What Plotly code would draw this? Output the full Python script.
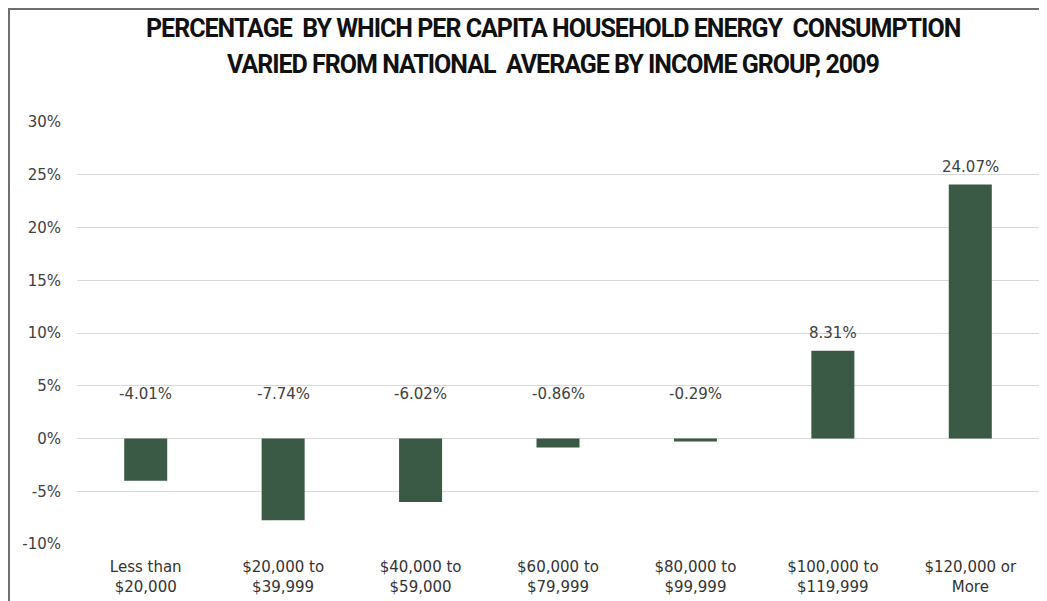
import plotly.graph_objects as go

categories = ["Less than<br>$20,000", "$20,000 to<br>$39,999", "$40,000 to<br>$59,000",
              "$60,000 to<br>$79,999", "$80,000 to<br>$99,999", "$100,000 to<br>$119,999",
              "$120,000 or<br>More"]
values = [-4.01, -7.74, -6.02, -0.86, -0.29, 8.31, 24.07]
tick_vals = [-10, -5, 0, 5, 10, 15, 20, 25, 30]
tick_text = ["-10%", "-5%", "0%", "5%", "10%", "15%", "20%", "25%", "30%"]
title_lines = ["PERCENTAGE  BY WHICH PER CAPITA HOUSEHOLD ENERGY  CONSUMPTION",
               "VARIED FROM NATIONAL  AVERAGE BY INCOME GROUP, 2009"]

OFF = 8  # page body margin
W, H = 1047, 601
# plot area in page pixels: x 77..1039, y 122..544
L, T = 77 - OFF, 122 - OFF
pw, ph = 962, 422
R = W - L - pw
B = H - T - ph

def px_x(x):
    return (x - OFF - L) / pw

def px_y(y):
    return (T + ph - (y - OFF)) / ph

fig = go.Figure()
fig.add_trace(go.Bar(x=categories, y=values, marker_color="#3a5a46",
                     marker_line_width=0, hoverinfo="skip"))

label_font = dict(family="DejaVu Sans, sans-serif", size=15, color="#404040")
for c, v in zip(categories, values):
    if v >= 0:
        fig.add_annotation(x=c, y=v, text=f"{v:.2f}%", showarrow=False,
                           yanchor="bottom", yshift=7, font=label_font)
    else:
        fig.add_annotation(x=c, y=0, text=f"{v:.2f}%", showarrow=False,
                           yanchor="middle", yshift=45, font=label_font)

title_font = dict(family="Roboto, Liberation Sans, sans-serif", size=25, color="#111111")
title_y = [28, 64]
for line, ty in zip(title_lines, title_y):
    fig.add_annotation(xref="paper", yref="paper", x=px_x(553), y=px_y(ty),
                       text=f"<span style='letter-spacing:-1px'><b>{line}</b></span>",
                       showarrow=False, xanchor="center", yanchor="middle",
                       font=title_font)

border = dict(color="#6e6e6e", width=2)
fig.add_shape(type="line", xref="paper", yref="paper", x0=px_x(9), x1=px_x(9),
              y0=px_y(9), y1=px_y(620), line=border)
fig.add_shape(type="line", xref="paper", yref="paper", x0=px_x(8), x1=px_x(1070),
              y0=px_y(9), y1=px_y(9), line=border)

fig.update_layout(
    width=W, height=H,
    margin=dict(l=L, r=R, t=T, b=B, pad=0),
    paper_bgcolor="white", plot_bgcolor="white",
    showlegend=False, bargap=0.687,
    xaxis=dict(showgrid=False, zeroline=False, showline=False, ticks="",
               ticklabelstandoff=12,
               tickfont=dict(family="DejaVu Sans, sans-serif", size=15, color="#333333"),
               fixedrange=True),
    yaxis=dict(range=[-10, 30], tickvals=tick_vals, ticktext=tick_text,
               showgrid=True, gridcolor="#d9d9d9", gridwidth=1, zeroline=False,
               showline=False, ticks="", ticklabelstandoff=15,
               tickfont=dict(family="DejaVu Sans, sans-serif", size=15, color="#404040"),
               fixedrange=True),
)

fig.write_html("out.html")
